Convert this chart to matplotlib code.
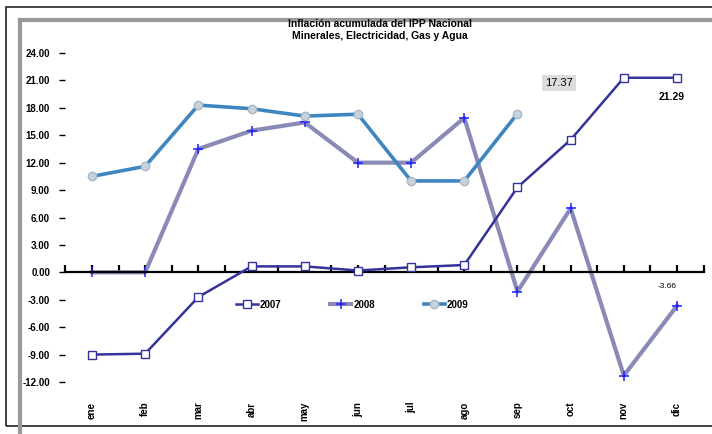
import numpy as np
import matplotlib
matplotlib.use("Agg")
import matplotlib.pyplot as plt
from matplotlib.patches import Rectangle
from matplotlib import transforms

plt.rcParams['font.family'] = ['Liberation Sans', 'DejaVu Sans']

# data
meses = ['ene', 'feb', 'mar', 'abr', 'may', 'jun', 'jul', 'ago', 'sep', 'oct', 'nov', 'dic']
v2007 = [-9.0, -8.9, -2.7, 0.65, 0.65, 0.2, 0.55, 0.8, 9.3, 14.5, 21.29, 21.29]
v2008 = [0.0, 0.0, 13.5, 15.5, 16.4, 12.0, 12.0, 16.9, -2.1, 7.0, -11.3, -3.66]
v2009 = [10.5, 11.6, 18.3, 17.9, 17.1, 17.3, 10.0, 10.0, 17.37]
yticks = [-12, -9, -6, -3, 0, 3, 6, 9, 12, 15, 18, 21, 24]
titulo = "Inflación acumulada del IPP Nacional\nMinerales, Electricidad, Gas y Agua"

W, H = 712, 434
fig = plt.figure(figsize=(W / 100, H / 100), dpi=100)

# outer frames
fig.patches.append(Rectangle((6 / W, 1 - 426 / H), 1.2, (426 - 7) / H, transform=fig.transFigure,
                             fill=False, edgecolor='#222222', linewidth=1.2))
fig.lines.append(plt.Line2D([20 / W, 20 / W], [0, 1 - 20 / H], transform=fig.transFigure,
                            color='#999999', linewidth=3))
fig.lines.append(plt.Line2D([20 / W, 1], [1 - 20 / H, 1 - 20 / H], transform=fig.transFigure,
                            color='#999999', linewidth=3))

ax = fig.add_axes([65.4 / W, (H - 382) / H, (703.6 - 65.4) / W, (382 - 53) / H])
ax.set_facecolor('none')

x = np.arange(len(meses))
ax.plot(x, v2007, color='#333399', linewidth=1.8, marker='s', markersize=6,
        markerfacecolor='white', markeredgecolor='#333399', label='2007', zorder=3)
ax.plot(x, v2008, color='#8a8ab6', linewidth=3, marker='+',
        markersize=7, markeredgecolor='#2020ff', markeredgewidth=1.1, label='2008', zorder=2)
ax.plot(x[:len(v2009)], v2009, color='#3f86c0', linewidth=2.6, marker='o', markersize=6,
        markerfacecolor='#c9d3dc', markeredgecolor='#a8b8c8', label='2009', zorder=4)

ax.set_xlim(-0.5, len(meses) - 0.5)
ax.set_ylim(-12, 24)

for s in ['top', 'right', 'left']:
    ax.spines[s].set_visible(False)
ax.spines['bottom'].set_position(('data', 0))
ax.spines['bottom'].set_linewidth(1.6)
ax.set_xticks(np.arange(-0.5, len(meses), 0.5))
ax.set_xticklabels([])
ax.tick_params(axis='x', direction='in', length=5, width=1.6)

ax.set_yticks(yticks)
ax.set_yticklabels(['%.2f' % v for v in yticks], fontsize=7, fontweight='bold')
ax.tick_params(axis='y', direction='out', length=4, width=1, pad=7)

trans = transforms.blended_transform_factory(ax.transData, ax.transAxes)
for i, m in enumerate(meses):
    ax.text(i, -0.06, m, transform=trans, rotation=90, ha='center', va='top',
            fontsize=7, fontweight='bold')

# data labels
ax.annotate('17.37', xy=(x[len(v2009) - 1], v2009[-1]), xytext=(30, 22), textcoords='offset points',
            ha='center', va='center', fontsize=8,
            bbox=dict(boxstyle='square,pad=0.3', facecolor='#dddddd', edgecolor='none'))
ax.annotate('%.2f' % v2007[-1], xy=(x[-1], v2007[-1]), xytext=(-4, -14), textcoords='offset points',
            ha='center', va='center', fontsize=7.5, fontweight='bold')
ax.annotate('%.2f' % v2008[-1], xy=(x[-1], v2008[-1]), xytext=(-7, 14), textcoords='offset points',
            ha='center', va='center', fontsize=6)

ax.legend(loc='center', bbox_to_anchor=(0.45, 0.235), ncol=3, frameon=False,
          prop={'weight': 'bold', 'size': 7}, columnspacing=5, handlelength=2.2, handletextpad=0.2)

fig.text(380 / W, 1 - 30 / H, titulo, ha='center', va='center', fontsize=7.5,
         fontweight='bold', linespacing=1.2)

fig.savefig('out.png', dpi=100)
